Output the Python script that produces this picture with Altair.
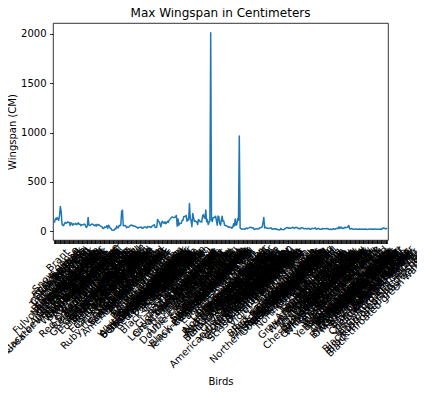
import altair as alt
import pandas as pd

# ---- bird names (in plotted order) and their max wingspan (cm), by group ----
waterfowl = ["Black-bellied whistling-duck", "Fulvous whistling-duck", "Snow goose", "Ross's goose",
             "Greater white-fronted goose", "Brant", "Cackling goose", "Canada goose", "Trumpeter swan",
             "Tundra swan", "Wood duck", "Blue-winged teal", "Cinnamon teal", "Northern shoveler", "Gadwall",
             "Eurasian wigeon", "American wigeon", "Mallard", "American black duck", "Northern pintail",
             "Green-winged teal", "Canvasback", "Redhead", "Ring-necked duck", "Greater scaup", "Lesser scaup",
             "King eider", "Common eider", "Harlequin duck", "Surf scoter", "White-winged scoter", "Black scoter",
             "Long-tailed duck", "Bufflehead", "Common goldeneye", "Barrow's goldeneye", "Hooded merganser",
             "Common merganser", "Red-breasted merganser", "Ruddy duck"]
waterfowl_span = [90, 95, 130, 118, 140, 120, 112, 160, 250, 200, 73, 60, 56, 78, 90, 80, 84, 95, 90, 88,
                  58, 85, 80, 60, 75, 72, 70, 80, 66, 76, 85, 70, 72, 55, 65, 66, 66, 72, 70, 48]

gamebirds = ["Northern bobwhite", "Gray partridge", "Wild turkey", "Ruffed grouse", "Spruce grouse",
             "Willow ptarmigan", "Sharp-tailed grouse", "Greater prairie-chicken", "Ring-necked pheasant"]
gamebirds_span = [38, 55, 140, 63, 58, 60, 72, 70, 70]

grebes = ["Pied-billed grebe", "Horned grebe", "Red-necked grebe", "Eared grebe", "Western grebe", "Clark's grebe"]
grebes_span = [62, 55, 65, 52, 70, 62]

doves_to_hummers = ["Rock pigeon", "Band-tailed pigeon", "Eurasian collared-dove", "White-winged dove",
                    "Mourning dove", "Inca dove", "Common ground-dove", "Yellow-billed cuckoo", "Black-billed cuckoo",
                    "Groove-billed ani", "Common nighthawk", "Common poorwill", "Chuck-will's-widow",
                    "Eastern whip-poor-will", "Chimney swift", "Vaux's swift", "Mexican violetear",
                    "Ruby-throated hummingbird", "Rufous hummingbird", "Calliope hummingbird"]
doves_to_hummers_span = [67, 60, 55, 50, 45, 28, 27, 43, 40, 43, 57, 30, 60, 50, 30, 28, 12, 11, 11, 11]

rails_cranes = ["Yellow rail", "Black rail", "King rail", "Virginia rail", "Sora", "Common gallinule",
                "Purple gallinule", "American coot", "Sandhill crane", "Whooping crane"]
rails_cranes_span = [28, 23, 53, 36, 35, 60, 55, 64, 200, 213]

shorebirds = ["Black-necked stilt", "American avocet", "Black-bellied plover", "American golden-plover",
              "Snowy plover", "Semipalmated plover", "Piping plover", "Killdeer", "Upland sandpiper", "Whimbrel",
              "Long-billed curlew", "Hudsonian godwit", "Marbled godwit", "Ruddy turnstone", "Red knot", "Ruff",
              "Stilt sandpiper", "Curlew sandpiper", "Red-necked stint", "Sanderling", "Dunlin", "Purple sandpiper",
              "Baird's sandpiper", "Little stint", "Least sandpiper", "White-rumped sandpiper",
              "Buff-breasted sandpiper", "Pectoral sandpiper", "Semipalmated sandpiper", "Western sandpiper",
              "Short-billed dowitcher", "Long-billed dowitcher", "American woodcock", "Wilson's snipe",
              "Spotted sandpiper", "Solitary sandpiper", "Lesser yellowlegs", "Willet", "Greater yellowlegs",
              "Wilson's phalarope", "Red-necked phalarope", "Red phalarope"]
shorebirds_span = [55, 55, 60, 55, 35, 42, 40, 45, 55, 60, 62, 55, 58, 50, 52, 48, 40, 40, 30, 38, 40, 40,
                   42, 30, 30, 40, 42, 44, 35, 35, 48, 46, 45, 42, 38, 50, 55, 62, 65, 40, 38, 42]

gulls_terns = ["Pomarine jaeger", "Parasitic jaeger", "Long-tailed jaeger", "Thick-billed murre",
               "Ancient murrelet", "Black-legged kittiwake", "Ivory gull", "Sabine's gull", "Bonaparte's gull",
               "Black-headed gull", "Little gull", "Ross's gull", "Laughing gull", "Franklin's gull", "Mew gull",
               "Ring-billed gull", "California gull", "Herring gull", "Iceland gull", "Lesser black-backed gull",
               "Slaty-backed gull", "Glaucous-winged gull", "Glaucous gull", "Great black-backed gull",
               "Least tern", "Caspian tern", "Black tern", "Common tern", "Arctic tern", "Forster's tern"]
gulls_terns_span = [120, 100, 95, 70, 45, 90, 100, 85, 80, 95, 75, 85, 100, 90, 110, 120, 130, 140, 145, 140,
                    140, 140, 150, 160, 50, 125, 60, 80, 78, 80]

loons_pelicans = ["Red-throated loon", "Pacific loon", "Common loon", "Yellow-billed loon", "Wood stork",
                  "Northern gannet", "Neotropic cormorant", "Double-crested cormorant", "Anhinga",
                  "American white pelican", "Brown pelican"]
loons_pelicans_span = [110, 110, 147, 150, 150, 160, 100, 123, 114, 280, 130]

herons_to_eagles = ["American bittern", "Least bittern", "Great blue heron", "Great egret", "Snowy egret",
                    "Little blue heron", "Tricolored heron", "Cattle egret", "Green heron",
                    "Black-crowned night-heron", "Yellow-crowned night-heron", "White ibis", "Glossy ibis",
                    "White-faced ibis", "Black vulture", "Turkey vulture", "Osprey", "Swallow-tailed kite",
                    "Golden eagle", "Mississippi kite", "Northern harrier", "Sharp-shinned hawk", "Cooper's hawk",
                    "Northern goshawk", "Bald eagle"]
herons_to_eagles_span = [105, 46, 180, 140, 100, 105, 96, 96, 68, 118, 112, 97, 95, 93, 150, 170, 140, 130,
                         215, 96, 118, 68, 90, 105, 2010]

hawks_to_falcons = ["Red-shouldered hawk", "Broad-winged hawk", "Swainson's hawk", "Red-tailed hawk",
                    "Rough-legged hawk", "Ferruginous hawk", "Barn owl", "Eastern screech-owl", "Great horned owl",
                    "Snowy owl", "Northern hawk owl", "Burrowing owl", "Barred owl", "Great gray owl",
                    "Long-eared owl", "Short-eared owl", "Boreal owl", "Northern saw-whet owl",
                    "Belted kingfisher", "Lewis's woodpecker", "Red-headed woodpecker", "Red-bellied woodpecker",
                    "Yellow-bellied sapsucker", "American three-toed woodpecker", "Black-backed woodpecker",
                    "Downy woodpecker", "Hairy woodpecker", "Pileated woodpecker", "Northern flicker",
                    "Crested caracara", "American kestrel", "Merlin", "Gyrfalcon", "Peregrine falcon",
                    "Prairie falcon"]
hawks_to_falcons_span = [111, 100, 137, 141, 139, 152, 107, 61, 153, 145, 80, 61, 110, 152, 100, 103, 62, 56,
                         58, 52, 43, 46, 40, 38, 41, 30, 41, 75, 54, 125, 61, 68, 130, 110, 965]

flycatchers_to_corvids = ["Olive-sided flycatcher", "Eastern wood-pewee", "Yellow-bellied flycatcher",
                          "Acadian flycatcher", "Alder flycatcher", "Willow flycatcher", "Least flycatcher",
                          "Eastern phoebe", "Say's phoebe", "Vermilion flycatcher", "Ash-throated flycatcher",
                          "Great crested flycatcher", "Western kingbird", "Eastern kingbird",
                          "Scissor-tailed flycatcher", "Loggerhead shrike", "Northern shrike", "White-eyed vireo",
                          "Bell's vireo", "Yellow-throated vireo", "Blue-headed vireo", "Philadelphia vireo",
                          "Warbling vireo", "Red-eyed vireo", "Canada jay", "Blue jay", "Clark's nutcracker",
                          "Black-billed magpie", "American crow", "Common raven"]
flycatchers_to_corvids_span = [33, 26, 20, 23, 22, 22, 20, 28, 33, 25, 31, 34, 40, 38, 38, 32, 35, 20, 18, 25,
                               24, 22, 22, 25, 35, 34, 40, 45, 85, 140]

larks_to_waxwings = ["Horned lark", "Purple martin", "Tree swallow", "Violet-green swallow",
                     "Northern rough-winged swallow", "Bank swallow", "Cliff swallow", "Cave swallow",
                     "Barn swallow", "Black-capped chickadee", "Boreal chickadee", "Tufted titmouse",
                     "Red-breasted nuthatch", "White-breasted nuthatch", "Brown creeper", "Rock wren",
                     "House wren", "Winter wren", "Sedge wren", "Marsh wren", "Carolina wren", "Bewick's wren",
                     "Blue-gray gnatcatcher", "Golden-crowned kinglet", "Ruby-crowned kinglet",
                     "Northern wheatear", "Eastern bluebird", "Mountain bluebird", "Townsend's solitaire", "Veery",
                     "Gray-cheeked thrush", "Swainson's thrush", "Hermit thrush", "Wood thrush", "American robin",
                     "Varied thrush", "Gray catbird", "Brown thrasher", "Northern mockingbird",
                     "European starling", "Bohemian waxwing", "Cedar waxwing"]
larks_to_waxwings_span = [33, 41, 35, 30, 29, 28, 30, 32, 34, 21, 21, 26, 22, 27, 20, 23, 15, 16, 14, 15, 29,
                          18, 16, 18, 18, 28, 32, 36, 38, 30, 34, 30, 29, 34, 40, 39, 30, 32, 38, 40, 35, 30]

finches_longspurs = ["House sparrow", "American pipit", "Sprague's pipit", "Evening grosbeak", "Pine grosbeak",
                     "Gray-crowned rosy-finch", "House finch", "Purple finch", "Cassin's finch", "Common redpoll",
                     "Hoary redpoll", "Red crossbill", "White-winged crossbill", "Pine siskin", "Lesser goldfinch",
                     "American goldfinch", "Lapland longspur", "Chestnut-collared longspur", "Smith's longspur",
                     "Thick-billed longspur", "Snow bunting"]
finches_longspurs_span = [25, 28, 25, 36, 35, 33, 25, 26, 29, 22, 22, 29, 28, 22, 20, 22, 28, 27, 28, 27, 35]

sparrows = ["Cassin's sparrow", "Grasshopper sparrow", "Lark sparrow", "Lark bunting", "Chipping sparrow",
            "Clay-colored sparrow", "Field sparrow", "Brewer's sparrow", "Fox sparrow", "American tree sparrow",
            "Dark-eyed junco", "White-crowned sparrow", "Golden-crowned sparrow", "Harris's sparrow",
            "White-throated sparrow", "Vesper sparrow", "LeConte's sparrow", "Nelson's sparrow",
            "Baird's sparrow", "Henslow's sparrow", "Savannah sparrow", "Song sparrow", "Lincoln's sparrow",
            "Swamp sparrow", "Green-tailed towhee", "Spotted towhee", "Eastern towhee"]
sparrows_span = [23, 20, 28, 28, 22, 19, 20, 19, 29, 24, 25, 24, 25, 29, 23, 25, 17, 18, 22, 17, 22, 24, 22,
                 19, 25, 28, 30]

blackbirds = ["Yellow-breasted chat", "Yellow-headed blackbird", "Bobolink", "Eastern meadowlark",
              "Western meadowlark", "Orchard oriole", "Bullock's oriole", "Baltimore oriole",
              "Red-winged blackbird", "Brown-headed cowbird", "Rusty blackbird", "Brewer's blackbird",
              "Common grackle", "Great-tailed grackle"]
blackbirds_span = [27, 44, 28, 40, 41, 25, 31, 30, 40, 36, 37, 39, 46, 58]

warblers = ["Ovenbird", "Worm-eating warbler", "Louisiana waterthrush", "Northern waterthrush",
            "Golden-winged warbler", "Blue-winged warbler", "Black-and-white warbler", "Prothonotary warbler",
            "Swainson's warbler", "Tennessee warbler", "Orange-crowned warbler", "Nashville warbler",
            "Connecticut warbler", "MacGillivray's warbler", "Mourning warbler", "Kentucky warbler",
            "Common yellowthroat", "Hooded warbler", "American redstart", "Kirtland's warbler", "Cape May warbler",
            "Cerulean warbler", "Northern parula", "Magnolia warbler", "Bay-breasted warbler",
            "Blackburnian warbler", "Yellow warbler", "Chestnut-sided warbler", "Blackpoll warbler",
            "Black-throated blue warbler", "Palm warbler", "Pine warbler", "Yellow-rumped warbler",
            "Yellow-throated warbler", "Prairie warbler", "Black-throated gray warbler", "Townsend's warbler",
            "Black-throated green warbler", "Canada warbler", "Wilson's warbler"]
warblers_span = [25, 22, 27, 26, 20, 19, 22, 22, 23, 20, 19, 20, 23, 19, 20, 22, 19, 20, 19, 22, 21, 20, 18,
                 20, 23, 22, 20, 21, 23, 20, 21, 23, 23, 21, 20, 20, 20, 20, 22, 17]

cardinals = ["Summer tanager", "Scarlet tanager", "Rose-breasted grosbeak", "Blue grosbeak", "Indigo bunting",
             "Dickcissel", "Northern cardinal"]
cardinals_span = [30, 30, 33, 29, 22, 26, 31]

groups = [
    (waterfowl, waterfowl_span), (gamebirds, gamebirds_span), (grebes, grebes_span),
    (doves_to_hummers, doves_to_hummers_span), (rails_cranes, rails_cranes_span),
    (shorebirds, shorebirds_span), (gulls_terns, gulls_terns_span), (loons_pelicans, loons_pelicans_span),
    (herons_to_eagles, herons_to_eagles_span), (hawks_to_falcons, hawks_to_falcons_span),
    (flycatchers_to_corvids, flycatchers_to_corvids_span), (larks_to_waxwings, larks_to_waxwings_span),
    (finches_longspurs, finches_longspurs_span), (sparrows, sparrows_span), (blackbirds, blackbirds_span),
    (warblers, warblers_span), (cardinals, cardinals_span),
]
birds, max_wingspan = [], []
for names, spans in groups:
    n = min(len(names), len(spans))
    birds += names[:n]
    max_wingspan += spans[:n]

y_ticks = [0, 500, 1000, 1500, 2000]
chart_title = "Max Wingspan in Centimeters"

df = pd.DataFrame({"Name": birds, "MaxWingspan": max_wingspan})

# matplotlib-like 5% data margins
n_pts = len(birds)
lo, hi = min(max_wingspan), max(max_wingspan)
pad_y = 0.05 * (hi - lo)
W, H = 335, 217
FONT = "DejaVu Sans"

x_scale = alt.Scale(type="point", padding=0.05 * (n_pts - 1))

line = alt.Chart(df).mark_line(color="#1f77b4", strokeWidth=1.5, strokeJoin="round").encode(
    x=alt.X("Name:N", sort=birds, scale=x_scale,
            axis=alt.Axis(labels=False, ticks=True, tickSize=3.5, tickWidth=0.8, tickColor="black",
                          domain=False, grid=False, title="Birds", titleFont=FONT, titleFontSize=10,
                          titleFontWeight="normal", titleColor="black", titleY=144,
                          titleBaseline="alphabetic")),
    y=alt.Y("MaxWingspan:Q", scale=alt.Scale(domain=[lo - pad_y, hi + pad_y], nice=False, zero=False),
            axis=alt.Axis(values=y_ticks, format="d", grid=False, domain=False, tickSize=3.5, tickWidth=0.8,
                          tickColor="black", labelPadding=3.5, labelFont=FONT, labelFontSize=10,
                          labelColor="black", title="Wingspan (CM)", titleFont=FONT, titleFontSize=10,
                          titleFontWeight="normal", titleColor="black", titleX=-38, titleY=H / 2,
                          titleAngle=270, titleAlign="center", titleBaseline="alphabetic")),
)

# rotated tick labels, centred like matplotlib's rotation=45 labels
labels = alt.Chart(df).transform_calculate(
    ly="(%s + 7) + 0.3536 * (length(datum.Name) * 5.3 + 11.6)" % H
).mark_text(angle=315, align="center", baseline="middle", font=FONT, fontSize=10, fill="black",
            opacity=0.99).encode(
    x=alt.X("Name:N", sort=birds, scale=x_scale),
    y=alt.Y("ly:Q", scale=alt.Scale(domain=[0, H], range=[0, H], nice=False, zero=False), axis=None),
    text="Name:N",
)

# chart title, drawn as a text mark centred above the plot area
title = alt.Chart(pd.DataFrame({"t": [chart_title]})).mark_text(
    font=FONT, fontSize=12, fill="black", align="center", baseline="alphabetic"
).encode(text="t:N", x=alt.value(W / 2), y=alt.value(-6))

chart = alt.layer(line, labels, title).resolve_scale(y="independent").properties(
    width=W, height=H,
    autosize=alt.AutoSizeParams(type="none"),
    padding={"left": 45, "top": 15, "right": 29, "bottom": 145},
    background="white",
).configure_view(stroke="black", strokeWidth=0.8)

chart.save("out.html", embed_options={"renderer": "svg", "actions": False})
